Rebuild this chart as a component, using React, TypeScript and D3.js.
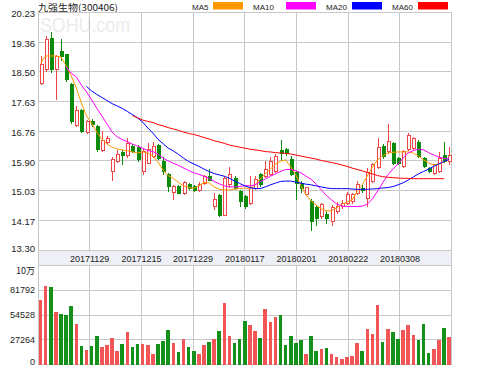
import React from "react";
import * as d3 from "d3";

const W = 499;
const H = 366;
const left = 38;
const right = 451.6;
const priceTop = 12.4;
const priceBottom = 250;
const volTop = 265.5;
const volBottom = 364.5;

// daily candles
const openP = [
  18.17, 18.56, 19.48, 18.56, 19.1, 18.99, 18.13, 16.92, 17.38, 16.72,
  17.05, 16.9, 16.2, 16.45, 15.6, 15.89, 16.15, 16.05, 16.32, 16.3,
  15.58, 15.83, 16.02, 16.36, 15.87, 15.49, 14.97, 15.15, 14.95, 15.2,
  15.16, 15.05, 15.25, 15.44, 14.57, 14.88, 14.32, 15.2, 15.39, 15.0,
  14.85, 14.67, 15.1, 15.5, 15.45, 15.5, 15.6, 16.2, 16.22, 15.95,
  15.55, 15.25, 14.92, 14.72, 14.53, 14.28, 14.33, 14.14, 14.43, 14.57,
  14.67, 14.71, 14.95, 15.1, 14.8, 15.29, 15.7, 16.31, 16.17, 16.41,
  15.97, 15.73, 16.22, 16.27, 16.43, 15.97, 15.68, 15.54, 15.58, 16.07,
  15.88,
];
const highP = [
  18.95, 19.55, 19.66, 19.0, 19.45, 19.02, 18.16, 17.5, 17.42, 17.09,
  17.12, 16.95, 16.78, 16.62, 16.0, 16.23, 16.22, 16.58, 16.4, 16.35,
  16.25, 16.41, 16.46, 16.4, 16.0, 15.55, 15.2, 15.2, 15.3, 15.25,
  15.2, 15.28, 15.5, 15.65, 14.95, 14.92, 15.45, 15.73, 15.45, 15.05,
  14.9, 15.45, 15.45, 15.55, 15.89, 16.0, 16.1, 16.52, 16.28, 16.05,
  15.6, 15.3, 15.15, 14.8, 14.6, 14.68, 14.45, 14.62, 14.7, 14.76,
  15.0, 14.95, 15.3, 15.2, 15.68, 15.85, 16.56, 16.4, 16.98, 16.46,
  16.02, 16.22, 16.72, 16.61, 16.5, 16.02, 15.73, 15.82, 16.17, 16.46,
  16.31,
];
const lowP = [
  18.12, 18.5, 18.46, 17.68, 18.8, 18.2, 16.98, 16.88, 16.72, 16.68,
  16.9, 16.15, 16.15, 16.4, 15.32, 15.85, 15.78, 15.98, 16.12, 15.88,
  15.5, 15.8, 15.98, 15.92, 15.5, 15.0, 14.76, 14.92, 14.9, 15.05,
  15.0, 15.0, 15.2, 15.3, 14.47, 14.27, 14.28, 15.1, 15.05, 14.56,
  14.5, 14.61, 15.05, 15.15, 15.4, 15.45, 15.55, 15.9, 16.05, 15.45,
  14.75, 14.95, 14.88, 13.85, 14.0, 14.2, 14.05, 14.0, 14.35, 14.5,
  14.6, 14.65, 14.9, 14.95, 14.56, 15.25, 15.65, 15.95, 16.1, 15.78,
  15.78, 15.7, 16.18, 16.22, 15.97, 15.68, 15.55, 15.5, 15.55, 15.83,
  15.78,
];
const closeP = [
  18.7, 19.43, 18.56, 18.95, 18.93, 18.28, 17.04, 17.38, 16.76, 17.05,
  16.95, 16.22, 16.5, 16.55, 15.93, 16.1, 16.05, 16.4, 16.18, 15.93,
  16.17, 16.22, 16.33, 15.97, 15.58, 15.15, 15.15, 14.95, 15.26, 15.1,
  15.05, 15.22, 15.44, 15.34, 14.76, 14.32, 15.39, 15.5, 15.1, 14.71,
  14.57, 15.11, 15.35, 15.21, 15.64, 15.89, 16.02, 16.12, 16.12, 15.5,
  15.25, 15.1, 15.11, 14.14, 14.23, 14.64, 14.23, 14.53, 14.57, 14.67,
  14.91, 14.91, 15.2, 15.03, 15.55, 15.78, 16.3, 16.02, 16.46, 15.83,
  15.83, 16.17, 16.65, 16.56, 16.02, 15.73, 15.58, 15.78, 15.97, 15.88,
  16.07,
];
const volume = [
  71200, 86800, 85000, 57500, 55300, 54500, 64500, 44200, 20000, 15600,
  20000, 31200, 19300, 21100, 29700, 14500, 23000, 35300, 19300, 23000,
  22300, 21500, 11100, 23000, 25900, 37800, 24200, 14100, 28600, 19300,
  14800, 11900, 21100, 24800, 28600, 37100, 67600, 31500, 23700, 28600,
  48200, 43400, 37100, 29700, 61200, 46400, 52000, 54900, 21100, 31200,
  24200, 27000, 11900, 31200, 14800, 17000, 18600, 11900, 8100, 6300,
  8100, 9200, 24200, 14500, 39000, 33400, 65700, 24800, 39000, 36000,
  28600, 37800, 43400, 32300, 27000, 44500, 13000, 17500, 27000, 39700,
  30400,
];

const ma5 = [
  18.75, 18.96, 18.96, 18.96, 18.93, 18.67, 18.38, 18.03, 17.59, 17.21,
  17.0, 16.74, 16.54, 16.39, 16.3, 16.25, 16.22, 16.19, 16.16, 16.13,
  16.16, 16.13, 16.04, 15.87, 15.63, 15.47, 15.39, 15.27, 15.17, 15.12,
  15.1, 15.17, 15.27, 15.26, 15.14, 15.07, 15.05, 15.05, 15.08, 15.09,
  15.11, 15.07, 15.2, 15.37, 15.52, 15.66, 15.8, 15.89, 15.93, 15.72,
  15.49, 15.17, 14.91, 14.73, 14.61, 14.5, 14.44, 14.45, 14.53, 14.63,
  14.7, 14.76, 15.0, 15.2, 15.46, 15.72, 15.93, 16.04, 16.13, 16.15,
  16.16, 16.16, 16.16, 16.13, 16.04, 15.93, 15.84, 15.78, 15.81, 15.87,
  15.93,
];
const ma10 = [
  null, null, null, null, null, 18.64, 18.46, 18.35, 18.11, 17.91,
  17.68, 17.44, 17.21, 16.98, 16.74, 16.6, 16.52, 16.46, 16.39, 16.33,
  16.27, 16.2, 16.17, 16.1, 15.98, 15.9, 15.83, 15.77, 15.69, 15.62,
  15.55, 15.51, 15.45, 15.39, 15.3, 15.23, 15.17, 15.14, 15.14, 15.15,
  15.18, 15.17, 15.2, 15.29, 15.37, 15.45, 15.52, 15.59, 15.65, 15.65,
  15.61, 15.55, 15.45, 15.36, 15.22, 15.05, 14.89, 14.76, 14.64, 14.58,
  14.57, 14.57, 14.57, 14.58, 14.64, 14.79, 15.02, 15.26, 15.49, 15.66,
  15.81, 15.98, 16.13, 16.2, 16.24, 16.22, 16.14, 16.07, 16.01, 15.97,
  15.96,
];
const ma20 = [
  null, null, null, null, null, null, null, null, null, 18.07,
  17.94, 17.84, 17.75, 17.66, 17.57, 17.5, 17.43, 17.34, 17.25, 17.15,
  17.03, 16.86, 16.71, 16.53, 16.4, 16.27, 16.19, 16.09, 15.98, 15.88,
  15.81, 15.74, 15.66, 15.59, 15.53, 15.49, 15.45, 15.39, 15.31, 15.24,
  15.17, 15.12, 15.09, 15.09, 15.14, 15.2, 15.25, 15.3, 15.31, 15.31,
  15.28, 15.25, 15.22, 15.2, 15.17, 15.14, 15.11, 15.09, 15.09, 15.09,
  15.09, 15.08, 15.07, 15.07, 15.07, 15.08, 15.09, 15.11, 15.12, 15.15,
  15.2, 15.26, 15.34, 15.43, 15.52, 15.59, 15.66, 15.74, 15.81, 15.88,
  15.94,
];
const ma60 = [
  null, null, null, null, null, null, null, null, null, null,
  null, null, null, null, null, null, null, null, 17.22, 17.16,
  17.09, 17.05, 17.02, 16.96, 16.92, 16.87, 16.83, 16.79, 16.74, 16.7,
  16.67, 16.63, 16.58, 16.54, 16.49, 16.45, 16.41, 16.36, 16.33, 16.3,
  16.27, 16.24, 16.22, 16.2, 16.17, 16.16, 16.14, 16.13, 16.12, 16.1,
  16.07, 16.04, 16.01, 15.98, 15.95, 15.91, 15.88, 15.85, 15.82, 15.78,
  15.74, 15.69, 15.65, 15.61, 15.56, 15.52, 15.47, 15.44, 15.42, 15.41,
  15.4, 15.39, 15.39, 15.38, 15.38, 15.38, 15.38, 15.38, 15.38, 15.38,
  null,
];

const priceTicks = [20.23, 19.36, 18.5, 17.63, 16.76, 15.9, 15.03, 14.17, 13.3];
const volTicks = [81792, 54528, 27264, 0];
const volMax = 109056;
const dateLabels = ["20171129", "20171215", "20171229", "20180117", "20180201", "20180222", "20180308"];
const maNames = ["MA5", "MA10", "MA20", "MA60"];
const maColors = ["#ff9900", "#ff00ff", "#0000ff", "#ff0000"];

const UP = "#f04646";
const DOWN = "#0a8c0a";
const VOL_UP = "#f25555";
const VOL_DOWN = "#13911a";
const GRID = "#c8c8c8";
const FONT = "'Liberation Sans', Arial, sans-serif";

const App = () => {
  const n = closeP.length;
  const x = d3
    .scaleBand<number>()
    .domain(d3.range(n))
    .range([left, right])
    .paddingInner(0.3)
    .paddingOuter(0.15);
  const bw = x.bandwidth();
  const cx = (i: number) => (x(i) as number) + bw / 2;

  const y = d3.scaleLinear().domain([13.3, 20.23]).range([priceBottom, priceTop]);
  const yv = d3.scaleLinear().domain([0, volMax]).range([volBottom, volTop]);

  const line = d3
    .line<number | null>()
    .defined((d) => d != null)
    .x((_, i) => cx(i))
    .y((d) => y(d as number));

  const vx = d3.range(1, 8).map((k) => left + ((right - left) * k) / 8);
  const mas = [ma5, ma10, ma20, ma60];
  const legendX = [192, 253, 326, 392];
  const swatchX = [213, 286, 352, 418];

  return (
    <svg
      width={W}
      height={H}
      style={{ position: "absolute", left: 0, top: 0, background: "#fff" }}
      fontFamily={FONT}
    >
      {/* watermark */}
      <text x={40} y={32} fontSize={21} fill="#ececec" textLength={90} lengthAdjust="spacingAndGlyphs">
        SOHU.com
      </text>

      {/* title + legend */}
      <text x={38} y={11} fontSize={9.5} fontFamily="'Noto Sans CJK SC', sans-serif" fill="#222" textLength={80} lengthAdjust="spacingAndGlyphs">
        九强生物(300406)
      </text>
      {maNames.map((m, k) => (
        <g key={m}>
          <text x={legendX[k]} y={9.5} fontSize={8} fill="#222">
            {m}
          </text>
          <rect x={swatchX[k]} y={2} width={30} height={7.5} fill={maColors[k]} />
        </g>
      ))}

      {/* price grid */}
      <g stroke={GRID} strokeWidth={1} shapeRendering="crispEdges">
        {priceTicks.map((t) => (
          <line key={t} x1={left} x2={right} y1={y(t)} y2={y(t)} />
        ))}
        {vx.map((v) => (
          <line key={"p" + v} x1={v} x2={v} y1={priceTop} y2={priceBottom} />
        ))}
        {volTicks.map((t) => (
          <line key={"v" + t} x1={left} x2={right} y1={yv(t)} y2={yv(t)} />
        ))}
        <line x1={left} x2={right} y1={volTop} y2={volTop} />
        {vx.map((v) => (
          <line key={"q" + v} x1={v} x2={v} y1={volTop} y2={volBottom} />
        ))}
      </g>

      {/* date band */}
      <rect x={left} y={priceBottom} width={right - left} height={volTop - priceBottom} fill="#eef0f6" stroke={GRID} shapeRendering="crispEdges" />
      {dateLabels.map((d, k) => (
        <text key={d} x={vx[k]} y={261.5} fontSize={9} textAnchor="middle" fill="#222">
          {d}
        </text>
      ))}

      {/* frame */}
      <g stroke={GRID} strokeWidth={1} shapeRendering="crispEdges">
        <line x1={left} x2={left} y1={priceTop} y2={volBottom} />
        <line x1={right} x2={right} y1={priceTop} y2={volBottom} />
      </g>

      {/* axis labels */}
      {priceTicks.map((t, k) => (
        <text key={t} x={35} y={k === priceTicks.length - 1 ? y(t) + 2 : y(t) + 4.7} fontSize={9.5} textAnchor="end" fill="#222">
          {t.toFixed(2)}
        </text>
      ))}
      <text x={35} y={273.5} fontSize={9} textAnchor="end" fill="#222" fontFamily="'Noto Sans CJK SC', sans-serif">
        10万
      </text>
      {volTicks.map((t) => (
        <text key={t} x={35} y={t === 0 ? yv(t) + 0.5 : yv(t) + 3.2} fontSize={9} textAnchor="end" fill="#222">
          {t}
        </text>
      ))}

      {/* volume bars */}
      <g shapeRendering="crispEdges">
        {volume.map((v, i) => (
          <rect
            key={i}
            x={x(i)}
            y={yv(v)}
            width={bw}
            height={volBottom - yv(v)}
            fill={closeP[i] >= openP[i] ? VOL_UP : VOL_DOWN}
          />
        ))}
      </g>

      {/* candles */}
      <g shapeRendering="crispEdges">
        {closeP.map((c, i) => {
          const o = openP[i];
          const up = c >= o;
          const col = up ? UP : DOWN;
          const top = y(Math.max(o, c));
          const bot = y(Math.min(o, c));
          const xc = Math.round(cx(i)) + 0.5;
          return (
            <g key={i}>
              <line x1={xc} x2={xc} y1={y(highP[i])} y2={y(lowP[i])} stroke={col} />
              <rect
                x={xc - 1.5}
                y={top}
                width={3}
                height={Math.max(1, bot - top)}
                fill={up ? "#fff" : col}
                stroke={col}
              />
            </g>
          );
        })}
      </g>

      {/* moving averages */}
      {mas.map((m, k) => (
        <path key={k} d={line(m) || ""} fill="none" stroke={maColors[k]} strokeWidth={1} />
      ))}
    </svg>
  );
};

export default App;
